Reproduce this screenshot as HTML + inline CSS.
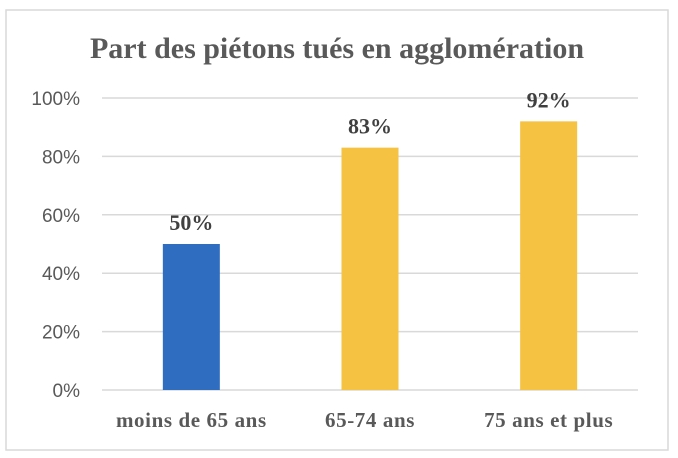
<!DOCTYPE html>
<html><head><meta charset="utf-8"><style>
html,body{margin:0;padding:0;background:#fff;}
svg{display:block;}
</style></head><body>
<svg width="678" height="458" xmlns="http://www.w3.org/2000/svg">
<rect x="6" y="10" width="662" height="440" fill="#fff" stroke="#d9d9d9" stroke-width="1.5"/>
<text x="337" y="58" text-anchor="middle" font-family="Liberation Serif, serif" font-weight="bold" font-size="30" fill="#595959">Part des piétons tués en agglomération</text>
<g id="grid"></g><g id="bars"></g><g id="labels"></g>
</svg>
<script>
const categories=["moins de 65 ans","65-74 ans","75 ans et plus"];
const values=[50,83,92];
const valueLabels=["50%","83%","92%"];
const ticks=[0,20,40,60,80,100];
const colors=["#2e6dbf","#f5c242","#f5c242"];
const NS="http://www.w3.org/2000/svg";
const x0=102,x1=638,y0=390,y1=98;
const band=(x1-x0)/categories.length;
const ys=v=>y0-(v/100)*(y0-y1);
const xc=i=>x0+band*(i+0.5);
function mk(t,a,p){const e=document.createElementNS(NS,t);for(const k in a)e.setAttribute(k,a[k]);p.appendChild(e);return e;}
const grid=document.getElementById('grid'),bars=document.getElementById('bars'),labels=document.getElementById('labels');
ticks.forEach(t=>{
  const l=mk('line',{x1:x0,x2:x1,y1:ys(t),y2:ys(t),stroke:'#d9d9d9','stroke-width':1.5},grid);
  
  
  const tx=mk('text',{x:80,y:ys(t)+7,'text-anchor':'end','font-family':'Liberation Sans, sans-serif','font-size':'19',fill:'#595959'},grid);
  tx.textContent=t+'%';
  
  
});
const bw=57;
values.forEach((v,i)=>{
  const r=mk('rect',{x:xc(i)-bw/2,y:ys(v),width:bw,height:y0-ys(v),fill:colors[i]},bars);
  
  
  const vl=mk('text',{x:xc(i),y:ys(v)-14,'text-anchor':'middle','font-family':'Liberation Serif, serif','font-weight':'bold','font-size':'22',fill:'#404040'},labels);
  vl.textContent=valueLabels[i];
  
  
  const cl=mk('text',{x:xc(i),y:427,'text-anchor':'middle','font-family':'Liberation Serif, serif','font-weight':'bold','font-size':'21','letter-spacing':'0.6',fill:'#595959'},labels);
  cl.textContent=categories[i];
  
  
});
</script>
</body></html>
